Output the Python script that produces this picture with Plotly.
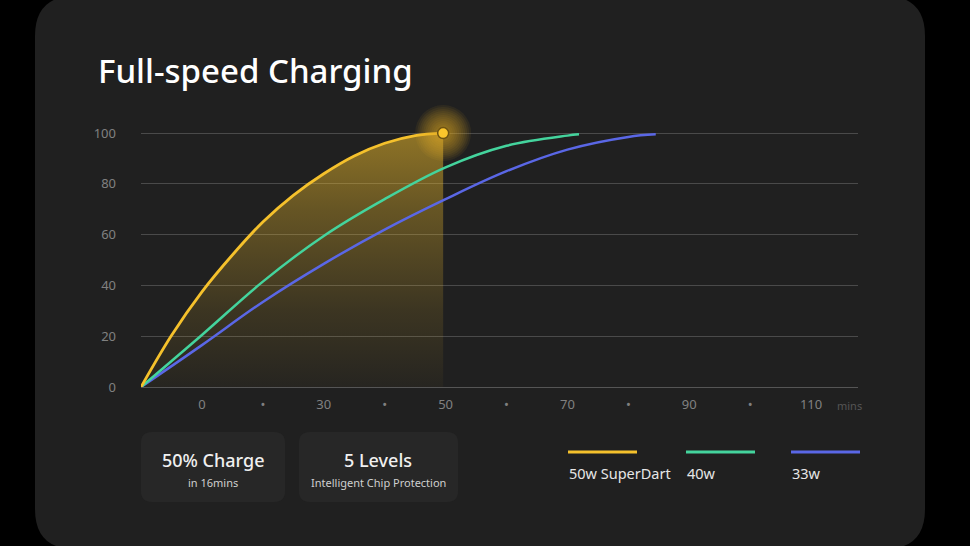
import plotly.graph_objects as go

# ---------------- data ----------------
tick_pos = [0, 1, 2, 3, 4, 5, 6, 7, 8, 9, 10]
tick_text = ["0", "•", "30", "•", "50", "•", "70", "•", "90", "•", "110"]
y_ticks = [0, 20, 40, 60, 80, 100]

x_50w = [-1, -0.5, 0, 0.5, 1, 1.5, 2, 2.5, 3, 3.5, 3.96]
y_50w = [0, 20.3, 37.5, 52, 65, 75.5, 84, 91, 96, 99, 100]

x_40w = [-1, 0, 1, 2, 3, 4, 5, 6, 6.19]
y_40w = [0, 20.5, 41.5, 59.5, 74, 86.5, 95, 99, 99.5]

x_33w = [-1, 0, 1, 2, 3, 4, 5, 6, 7, 7.45]
y_33w = [0, 16.5, 33.5, 48.5, 62, 74, 85, 93.5, 98.5, 99.5]

series_names = ["50w SuperDart", "40w", "33w"]
series_colors = ["#f5c12c", "#44d49d", "#5a67e6"]

# ---------------- geometry helpers ----------------
W, H = 970, 546
L, R, T, B = 141, 858, 128, 387
YMAX = 102


def px(x):
    return (x - L) / (R - L)


def py(y):
    return (B - y) / (B - T)


def rrect(x0, y0, x1, y1, r):
    p = [
        f"M{px(x0 + r)},{py(y0)}",
        f"L{px(x1 - r)},{py(y0)}",
        f"Q{px(x1)},{py(y0)} {px(x1)},{py(y0 + r)}",
        f"L{px(x1)},{py(y1 - r)}",
        f"Q{px(x1)},{py(y1)} {px(x1 - r)},{py(y1)}",
        f"L{px(x0 + r)},{py(y1)}",
        f"Q{px(x0)},{py(y1)} {px(x0)},{py(y1 - r)}",
        f"L{px(x0)},{py(y0 + r)}",
        f"Q{px(x0)},{py(y0)} {px(x0 + r)},{py(y0)}",
        "Z",
    ]
    return " ".join(p)


FONT = "Noto Sans, Open Sans, sans-serif"
SMOOTH = 1.0

fig = go.Figure()

# yellow gradient fill
fig.add_trace(go.Scatter(
    x=x_50w, y=y_50w, mode="none", fill="tozeroy",
    line=dict(shape="spline", smoothing=SMOOTH),
    fillgradient=dict(type="vertical", colorscale=[
        [0, "rgba(245,193,44,0.03)"], [0.3, "rgba(245,193,44,0.13)"],
        [0.7, "rgba(245,193,44,0.33)"], [1, "rgba(245,193,44,0.52)"]]),
    hoverinfo="skip", showlegend=False,
))

for xs, ys, name, col in [(x_33w, y_33w, series_names[2], series_colors[2]),
                          (x_40w, y_40w, series_names[1], series_colors[1]),
                          (x_50w, y_50w, series_names[0], series_colors[0])]:
    fig.add_trace(go.Scatter(
        x=xs, y=ys, mode="lines", name=name,
        line=dict(color=col, width=2.8 if col == series_colors[0] else 2.5,
                  shape="spline", smoothing=SMOOTH),
        cliponaxis=False, showlegend=False,
    ))

# soft glow around end point
for size in range(56, 12, -4):
    fig.add_trace(go.Scatter(
        x=[x_50w[-1]], y=[y_50w[-1]], mode="markers",
        marker=dict(size=size, color="#e9b52a", opacity=0.075, line=dict(width=0)),
        cliponaxis=False, showlegend=False, hoverinfo="skip",
    ))
fig.add_trace(go.Scatter(
    x=[x_50w[-1]], y=[y_50w[-1]], mode="markers",
    marker=dict(size=11, color="#fbc62c", line=dict(width=1.5, color="#6e5312")),
    cliponaxis=False, showlegend=False,
))

shapes = []
# card
shapes.append(dict(type="path", xref="paper", yref="paper", layer="below",
                   path=rrect(35, -4, 925, 549, 40), fillcolor="#202020", line=dict(width=0)))
# stat boxes
for x0, x1 in [(141, 285), (299, 458)]:
    shapes.append(dict(type="path", xref="paper", yref="paper", layer="below",
                       path=rrect(x0, 432, x1, 502, 11), fillcolor="#272727", line=dict(width=0)))
# legend lines
legend_x = [(568, 637), (686, 755), (791, 860)]
for (x0, x1), col in zip(legend_x, series_colors):
    shapes.append(dict(type="line", xref="paper", yref="paper",
                       x0=px(x0), x1=px(x1), y0=py(452), y1=py(452),
                       line=dict(color=col, width=3)))

annotations = [
    dict(text="Full-speed Charging", x=px(96), y=py(70), xref="paper", yref="paper",
         xanchor="left", yanchor="middle", showarrow=False,
         font=dict(family=FONT, size=33, color="#ffffff", weight=500)),
    dict(text="mins", x=px(835), y=py(405), xref="paper", yref="paper",
         xanchor="left", yanchor="middle", showarrow=False,
         font=dict(family=FONT, size=11, color="#555555")),
    dict(text="50% Charge", x=px(213), y=py(460), xref="paper", yref="paper",
         xanchor="center", yanchor="middle", showarrow=False,
         font=dict(family=FONT, size=18, color="#f0f0f0", weight=500)),
    dict(text="in 16mins", x=px(213), y=py(482), xref="paper", yref="paper",
         xanchor="center", yanchor="middle", showarrow=False,
         font=dict(family=FONT, size=11, color="#cfcfcf")),
    dict(text="5 Levels", x=px(378), y=py(460), xref="paper", yref="paper",
         xanchor="center", yanchor="middle", showarrow=False,
         font=dict(family=FONT, size=18, color="#f0f0f0", weight=500)),
    dict(text="Intelligent Chip Protection", x=px(378), y=py(482), xref="paper", yref="paper",
         xanchor="center", yanchor="middle", showarrow=False,
         font=dict(family=FONT, size=11, color="#cfcfcf")),
]
for (x0, _), name in zip(legend_x, series_names):
    annotations.append(dict(text=name, x=px(x0 - 1), y=py(473), xref="paper", yref="paper",
                            xanchor="left", yanchor="middle", showarrow=False,
                            font=dict(family=FONT, size=14.5, color="#e6e6e6")))

fig.update_layout(
    width=W, height=H,
    margin=dict(l=L, r=W - R, t=T, b=H - B, pad=0),
    paper_bgcolor="#000000", plot_bgcolor="rgba(0,0,0,0)",
    shapes=shapes, annotations=annotations, showlegend=False,
    font=dict(family=FONT),
    xaxis=dict(range=[-1, 10.77], tickvals=tick_pos, ticktext=tick_text,
               showgrid=False, zeroline=False, showline=False, ticks="",
               ticklabelstandoff=8, tickfont=dict(size=13, color="#808080", family=FONT)),
    yaxis=dict(range=[0, YMAX], tickvals=y_ticks, showgrid=True, gridcolor="#4a4a4a",
               gridwidth=1, zeroline=True, zerolinecolor="#555555", zerolinewidth=1,
               showline=False, ticks="", ticklabelstandoff=24,
               tickfont=dict(size=13, color="#808080", family=FONT)),
)

fig.write_html("out.html", config={"displayModeBar": False},
               post_script="document.body.style.margin='0';")
